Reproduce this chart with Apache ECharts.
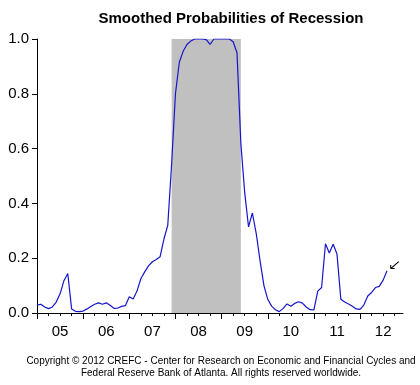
<!DOCTYPE html>
<html>
<head>
<meta charset="utf-8">
<script src="https://cdn.jsdelivr.net/npm/echarts@6/dist/echarts.min.js"></script>
<style>html,body{margin:0;padding:0;background:#fff}#c{width:420px;height:385px}</style>
</head>
<body>
<div id="c"></div>
<script>
// Monthly smoothed recession probabilities, Jan 2005 .. Aug 2012
var startYear = 2005;
var probabilities = [
  0.029, 0.032, 0.022, 0.016, 0.022, 0.040, 0.070, 0.118, 0.144, 0.015, 0.006, 0.005,
  0.007, 0.015, 0.024, 0.032, 0.037, 0.032, 0.037, 0.028, 0.017, 0.018, 0.024, 0.027,
  0.059, 0.051, 0.080, 0.125, 0.150, 0.172, 0.187, 0.195, 0.205, 0.270, 0.320, 0.544,
  0.800, 0.915, 0.955, 0.980, 0.993, 1.000, 1.000, 1.000, 0.998, 0.980, 1.000, 1.000,
  1.000, 1.000, 1.000, 0.990, 0.950, 0.620, 0.440, 0.314, 0.365, 0.290, 0.190, 0.100,
  0.050, 0.025, 0.012, 0.005, 0.017, 0.033, 0.025, 0.035, 0.041, 0.036, 0.022, 0.012,
  0.011, 0.080, 0.093, 0.253, 0.219, 0.251, 0.215, 0.050, 0.040, 0.033, 0.025, 0.015,
  0.013, 0.030, 0.062, 0.075, 0.093, 0.097, 0.120, 0.154
];
var years = [2005, 2006, 2007, 2008, 2009, 2010, 2011, 2012];
var yearLabels = ['05', '06', '07', '08', '09', '10', '11', '12'];
var recessionStart = 2007 + 11 / 12; // Dec 2007
var recessionEnd = 2009 + 5 / 12;    // Jun 2009
var xMax = 2012.93;
var arrowAt = [2012.75, 0.175];

var seriesData = probabilities.map(function (v, i) { return [startYear + i / 12, v]; });
var midYears = years.map(function (y) { return y + 0.5; });
var quarters = [];
years.forEach(function (y) { [0.25, 0.5, 0.75].forEach(function (q) { quarters.push(y + q); }); });

var font = 'Liberation Sans, Arial, sans-serif';
var chart = echarts.init(document.getElementById('c'), null, {renderer: 'canvas'});
chart.setOption({
  animation: false,
  backgroundColor: '#fff',
  title: [
    {text: 'Smoothed Probabilities of Recession', left: 226, top: 6, textAlign: 'center',
     textStyle: {fontFamily: font, fontSize: 15, fontWeight: 'bold', color: '#000'}},
    {text: 'Copyright \u00a9 2012 CREFC - Center for Research on Economic and Financial Cycles and\nFederal Reserve Bank of Atlanta. All rights reserved worldwide.',
     left: 216, top: 350, textAlign: 'center',
     textStyle: {fontFamily: font, fontSize: 10, lineHeight: 12, fontWeight: 'normal', color: '#000'}}
  ],
  grid: {left: 37, right: 17, top: 39, bottom: 72, containLabel: false},
  xAxis: [
    {type: 'value', min: startYear, max: xMax, position: 'bottom',
     axisLine: {show: true, lineStyle: {color: '#000', width: 1}},
     axisTick: {show: true, customValues: years, length: 6, lineStyle: {color: '#000'}},
     axisLabel: {show: true, customValues: midYears, margin: 11,
       formatter: function (v) { var i = midYears.indexOf(v); return i >= 0 ? yearLabels[i] : ''; },
       fontFamily: font, fontSize: 15, color: '#000'},
     splitLine: {show: false}},
    {type: 'value', min: startYear, max: xMax, position: 'bottom',
     axisLine: {show: false},
     axisTick: {show: true, customValues: quarters, length: 3, lineStyle: {color: '#000'}},
     axisLabel: {show: false},
     splitLine: {show: false}}
  ],
  yAxis: {
    type: 'value', min: 0, max: 1, interval: 0.2,
    axisLine: {show: true, lineStyle: {color: '#000', width: 1}},
    axisTick: {show: true, length: 5, lineStyle: {color: '#000'}},
    axisLabel: {margin: 8, fontFamily: font, fontSize: 15, color: '#000',
      formatter: function (v) { return v.toFixed(1); }},
    splitLine: {show: false}
  },
  series: [{
    type: 'line', xAxisIndex: 0, data: seriesData, symbol: 'none',
    lineStyle: {color: '#1515cc', width: 1.2},
    markArea: {silent: true, itemStyle: {color: '#c0c0c0', opacity: 1},
      data: [[{xAxis: recessionStart}, {xAxis: recessionEnd}]]},
    markPoint: {silent: true, label: {show: false},
      symbol: 'path://M10,0 L0,10 M0,10 L0,5 M0,10 L5,10',
      symbolSize: [8, 7],
      itemStyle: {color: 'none', borderColor: '#000', borderWidth: 1},
      data: [{coord: arrowAt}]}
  }]
});
</script>
</body>
</html>
